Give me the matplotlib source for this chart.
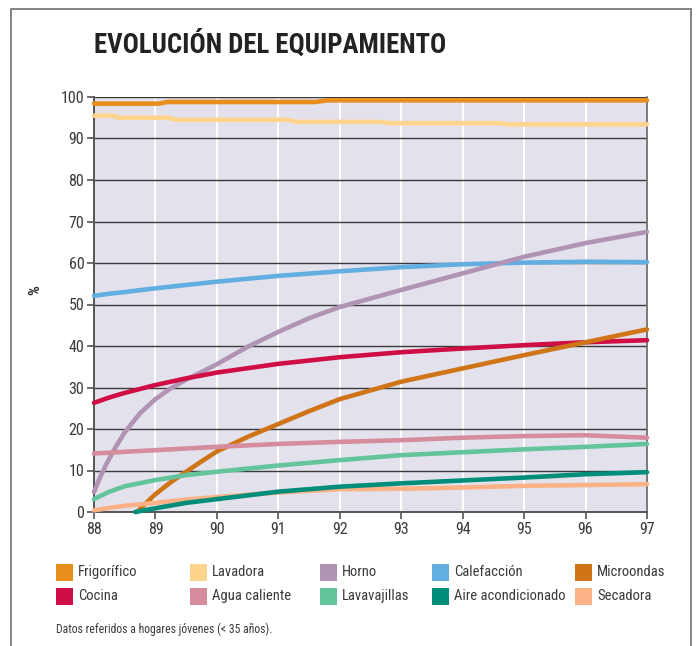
import matplotlib
matplotlib.use("Agg")
import matplotlib.pyplot as plt
from matplotlib.patches import Rectangle

plt.rcParams['font.family'] = ['Roboto Condensed', 'Liberation Sans Narrow',
                               'Liberation Sans', 'DejaVu Sans']

# ---- data (percent of young households owning each appliance) ----
years_step = [88, 89.05, 89.2, 91.6, 91.8, 97]
frigorifico = [98.4, 98.4, 98.8, 98.8, 99.2, 99.2]

years_lav = [88, 88.3, 88.4, 89.2, 89.35, 91.15, 91.3, 92.65, 92.8, 94.6, 94.75, 97]
lavadora = [95.5, 95.5, 95.0, 95.0, 94.5, 94.5, 94.0, 94.0, 93.7, 93.7, 93.4, 93.4]

years = [88, 88.25, 88.5, 89, 89.5, 90, 91, 92, 93, 94, 95, 96, 97]
calefaccion = [52.1, 52.6, 53.0, 53.9, 54.7, 55.5, 56.9, 58.0, 59.0, 59.7, 60.1, 60.3, 60.2]
cocina = [26.3, 27.6, 28.7, 30.6, 32.2, 33.6, 35.7, 37.3, 38.5, 39.4, 40.2, 40.9, 41.4]
agua_caliente = [14.1, 14.3, 14.5, 14.9, 15.3, 15.7, 16.4, 16.9, 17.3, 17.9, 18.3, 18.5, 17.9]
lavavajillas = [3.1, 4.9, 6.2, 7.7, 8.9, 9.7, 11.2, 12.5, 13.7, 14.4, 15.1, 15.7, 16.4]
secadora = [0.4, 1.0, 1.5, 2.2, 3.0, 3.6, 4.7, 5.5, 5.6, 5.9, 6.3, 6.5, 6.7]

years_horno = [88, 88.1, 88.2, 88.35, 88.5, 88.75, 89, 89.25, 89.5, 90, 90.5, 91, 91.5,
               92, 93, 94, 95, 96, 97]
horno = [4.8, 8.4, 11.5, 15.6, 19.2, 23.8, 27.2, 29.8, 31.9, 35.6, 39.8, 43.4, 46.7,
         49.4, 53.5, 57.5, 61.5, 64.8, 67.5]

years_mw = [88.7, 88.85, 89, 89.25, 89.5, 89.75, 90, 90.5, 91, 91.5, 92, 93, 94, 95, 96, 97]
microondas = [0.0, 2.2, 4.3, 7.2, 9.7, 12.2, 14.6, 18.1, 21.2, 24.3, 27.2, 31.4, 34.6,
              37.8, 40.9, 44.0]

years_ac = [88.67, 89, 89.5, 90, 91, 92, 93, 94, 95, 96, 97]
aire_acond = [0.0, 0.9, 2.2, 3.1, 4.9, 6.1, 6.9, 7.6, 8.3, 9.1, 9.6]

x_ticks = [88, 89, 90, 91, 92, 93, 94, 95, 96, 97]
y_ticks = list(range(0, 101, 10))

colors = {
    'Frigorífico': '#E78E1E',
    'Lavadora': '#FDD48C',
    'Horno': '#B194B4',
    'Calefacción': '#63AEE0',
    'Microondas': '#D07418',
    'Cocina': '#CF0E45',
    'Agua caliente': '#D58C9D',
    'Lavavajillas': '#64C59C',
    'Aire acondicionado': '#008D7A',
    'Secadora': '#FCB286',
}

fig = plt.figure(figsize=(6.96, 6.46), dpi=100)
W, H = 696, 646

def fx(px):
    return px / W

def fy(py):
    return 1 - py / H

# outer frame
fig.patches.append(Rectangle((fx(11), fy(700)), fx(691) - fx(11), fy(9) - fy(700),
                             transform=fig.transFigure, fill=False,
                             edgecolor='#7a7a7a', linewidth=1.3))

ax = fig.add_axes([fx(94), fy(512), fx(647) - fx(94), fy(97) - fy(512)])
ax.set_facecolor('#E3E2EC')
ax.set_xlim(88, 97)
ax.set_ylim(0, 100)

for x in x_ticks[1:-1]:
    ax.axvline(x, color='white', lw=1.4, zorder=1)
for y in y_ticks[1:]:
    ax.axhline(y, color='#3a3a3a', lw=1.0, zorder=1)

lw = 3.3
series = [
    (years_step, frigorifico, 'Frigorífico'),
    (years_lav, lavadora, 'Lavadora'),
    (years, calefaccion, 'Calefacción'),
    (years_horno, horno, 'Horno'),
    (years, cocina, 'Cocina'),
    (years_mw, microondas, 'Microondas'),
    (years, agua_caliente, 'Agua caliente'),
    (years, lavavajillas, 'Lavavajillas'),
    (years, secadora, 'Secadora'),
    (years_ac, aire_acond, 'Aire acondicionado'),
]
for xs, ys, name in series:
    ax.plot(xs, ys, color=colors[name], lw=lw, solid_capstyle='round',
            solid_joinstyle='round', zorder=3, clip_on=False)

ax.spines['top'].set_visible(False)
ax.spines['left'].set_color('#555555')
ax.spines['bottom'].set_color('#555555')
ax.spines['right'].set_color('#666666')
ax.spines['left'].set_linewidth(1.4)
ax.spines['bottom'].set_linewidth(1.4)
ax.spines['right'].set_linewidth(1.2)

ax.set_xticks(x_ticks)
ax.set_xticklabels([str(x) for x in x_ticks])
ax.set_yticks(y_ticks)
ax.set_yticklabels([str(y) for y in y_ticks])
ax.tick_params(axis='both', colors='#555555', labelcolor='#3a3a3a',
               labelsize=11.5, length=5, width=1.2)
ax.tick_params(axis='x', pad=2)
ax.tick_params(axis='y', pad=2)

fig.text(fx(35), fy(290), '%', fontsize=11, fontweight='bold', color='#222222',
         rotation=90, va='center', ha='center')

fig.text(fx(94), fy(45), 'EVOLUCIÓN DEL EQUIPAMIENTO', fontsize=19.3,
         fontweight='bold', color='#222222', va='center', ha='left')

# legend
legend_cols = [56, 190, 320, 432, 575]
legend_rows = [572, 596]
legend_order = [
    ['Frigorífico', 'Lavadora', 'Horno', 'Calefacción', 'Microondas'],
    ['Cocina', 'Agua caliente', 'Lavavajillas', 'Aire acondicionado', 'Secadora'],
]
for r, row in enumerate(legend_order):
    for c, name in enumerate(row):
        x0 = legend_cols[c]
        yc = legend_rows[r]
        fig.patches.append(Rectangle((fx(x0), fy(yc + 8.5)), fx(17), 17 / H,
                                     transform=fig.transFigure,
                                     facecolor=colors[name], edgecolor='none'))
        fig.text(fx(x0 + 22), fy(yc), name, fontsize=10.5, color='#3a3a3a',
                 va='center', ha='left')

fig.text(fx(56), fy(629), 'Datos referidos a hogares jóvenes (< 35 años).',
         fontsize=8.5, color='#3a3a3a', va='center', ha='left')

fig.savefig('out.png', dpi=100)
